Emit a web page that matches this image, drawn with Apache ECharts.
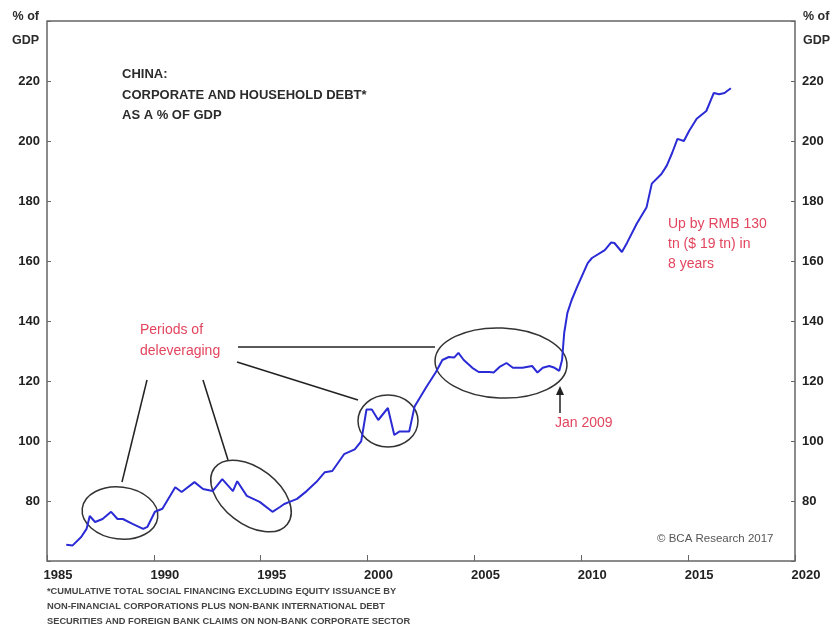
<!DOCTYPE html>
<html>
<head>
<meta charset="utf-8">
<script src="https://cdn.jsdelivr.net/npm/echarts@6/dist/echarts.min.js"></script>
<style>
  html, body { margin: 0; padding: 0; background: #fff; }
  #chart { width: 835px; height: 628px; }
</style>
</head>
<body>
<div id="chart"></div>
<script>
// decimal years and debt (% of GDP)
let years = [1985.9, 1986.2, 1986.6, 1986.85, 1987.0, 1987.25, 1987.6, 1988.0, 1988.3, 1988.55,
  1989.0, 1989.5, 1989.7, 1990.05, 1990.4, 1991.0, 1991.3, 1991.9, 1992.3, 1992.75,
  1993.2, 1993.7, 1993.9, 1994.35, 1994.95, 1995.55, 1995.9, 1996.1, 1996.35, 1996.7,
  1997.15, 1997.6, 1998.0, 1998.35, 1998.9, 1999.4, 1999.7, 1999.95, 2000.2, 2000.5,
  2000.95, 2001.25, 2001.5, 2001.95, 2002.2, 2002.75, 2003.2, 2003.5, 2003.8, 2004.05,
  2004.25, 2004.5, 2004.9, 2005.2, 2005.7, 2005.9, 2006.2, 2006.5, 2006.8, 2007.25,
  2007.7, 2007.95, 2008.2, 2008.5, 2008.75, 2008.97, 2009.1, 2009.2, 2009.35, 2009.55,
  2009.8, 2010.3, 2010.5, 2011.1, 2011.4, 2011.55, 2011.9, 2012.15, 2012.6, 2013.05,
  2013.3, 2013.75, 2014.0, 2014.25, 2014.5, 2014.8, 2015.05, 2015.4, 2015.85, 2016.1,
  2016.2, 2016.45, 2016.7, 2017.0];
let debt = [65.4, 65.2, 68, 70.7, 75, 73, 74, 76.4, 74, 74,
  72.4, 70.7, 71.4, 76.4, 77.4, 84.6, 83, 86.3, 84, 83.3,
  87.3, 83.3, 86.6, 81.7, 79.7, 76.4, 78, 79, 79.7, 80.7,
  83.3, 86.3, 89.6, 90, 95.6, 97.2, 99.9, 110.5, 110.5, 107,
  111, 102, 103.2, 103.2, 111.5, 118, 123, 127, 128, 127.8,
  129.4, 127, 124.4, 123, 123, 122.8, 124.8, 126, 124.4, 124.4,
  125, 122.8, 124.4, 125, 124.4, 123.4, 127, 136, 142.7, 147,
  151.3, 159.3, 161, 163.6, 166.2, 166, 163, 166.2, 172.5, 177.8,
  185.8, 189, 191.8, 196, 200.7, 200, 203.4, 207.4, 210, 214.3,
  216, 215.6, 216, 217.6];
let yTicks = [80, 100, 120, 140, 160, 180, 200, 220];

let chart = echarts.init(document.getElementById('chart'));

let red = '#e2455e';
let ink = '#2b2b2b';
let font = 'Liberation Sans, Arial, sans-serif';

let yLabel = (v) => (yTicks.indexOf(v) >= 0 ? String(v) : '');

let yAxisBase = {
  type: 'value',
  min: 60,
  max: 240,
  interval: 20,
  axisLine: { show: false },
  axisTick: { show: true, inside: true, length: 4, lineStyle: { color: '#666' } },
  splitLine: { show: false },
  axisLabel: { formatter: yLabel, color: '#222', fontSize: 13, fontWeight: 'bold', fontFamily: font, margin: 7 },
};

let ellipse = (cx, cy, rx, ry, rot) => ({
  type: 'ellipse',
  x: cx,
  y: cy,
  rotation: rot,
  shape: { cx: 0, cy: 0, rx: rx, ry: ry },
  style: { fill: 'none', stroke: '#333', lineWidth: 1.5 },
});
let seg = (x1, y1, x2, y2) => ({
  type: 'line',
  shape: { x1: x1, y1: y1, x2: x2, y2: y2 },
  style: { stroke: '#222', lineWidth: 1.5 },
});
let txt = (x, y, text, opts) => ({
  type: 'text',
  x: x,
  y: y,
  style: Object.assign({ text: text, fontFamily: font, fill: ink, fontSize: 13 }, opts || {}),
});
let foot = { fill: '#444', fontSize: 9.3, fontWeight: 'bold' };

chart.setOption({
  animation: false,
  grid: {
    left: 47, right: 40, top: 21, bottom: 67,
    show: true, borderColor: '#666', borderWidth: 1.5, backgroundColor: 'transparent',
  },
  xAxis: {
    type: 'value',
    min: 1985,
    max: 2020,
    interval: 5,
    axisLine: { show: false },
    axisTick: { show: true, inside: true, length: 6, lineStyle: { color: '#666' } },
    splitLine: { show: false },
    axisLabel: {
      formatter: (v) => String(v),
      color: '#222', fontSize: 13, fontWeight: 'bold', fontFamily: font, margin: 8,
      padding: [0, 0, 0, 22],
    },
  },
  yAxis: [
    Object.assign({}, yAxisBase, { position: 'left' }),
    Object.assign({}, yAxisBase, { position: 'right' }),
  ],
  series: [
    {
      type: 'line',
      data: years.map((y, i) => [y, debt[i]]),
      showSymbol: false,
      lineStyle: { color: '#2b2bd6', width: 2 },
    },
  ],
  graphic: [
    txt(39, 10, '% of', { align: 'right', fontWeight: 'bold', fontSize: 12.5 }),
    txt(39, 34, 'GDP', { align: 'right', fontWeight: 'bold', fontSize: 12.5 }),
    txt(803, 10, '% of', { fontWeight: 'bold', fontSize: 12.5 }),
    txt(803, 34, 'GDP', { fontWeight: 'bold', fontSize: 12.5 }),

    txt(122, 68, 'CHINA:', { fontWeight: 'bold' }),
    txt(122, 89, 'CORPORATE AND HOUSEHOLD DEBT*', { fontWeight: 'bold' }),
    txt(122, 109, 'AS A % OF GDP', { fontWeight: 'bold' }),

    txt(140, 323, 'Periods of', { fill: red, fontSize: 14 }),
    txt(140, 344, 'deleveraging', { fill: red, fontSize: 14 }),
    txt(555, 416, 'Jan 2009', { fill: red, fontSize: 14 }),
    txt(668, 217, 'Up by RMB 130', { fill: red, fontSize: 14 }),
    txt(668, 237, 'tn ($ 19 tn) in', { fill: red, fontSize: 14 }),
    txt(668, 257, '8 years', { fill: red, fontSize: 14 }),
    txt(657, 533, '\u00a9 BCA Research 2017', { fill: '#555', fontSize: 11.5 }),

    txt(47, 587, '*CUMULATIVE TOTAL SOCIAL FINANCING EXCLUDING EQUITY ISSUANCE BY', foot),
    txt(47, 602, 'NON-FINANCIAL CORPORATIONS PLUS NON-BANK INTERNATIONAL DEBT', foot),
    txt(47, 617, 'SECURITIES AND FOREIGN BANK CLAIMS ON NON-BANK CORPORATE SECTOR', foot),

    ellipse(120, 513, 38, 26, -0.12),
    ellipse(251, 496, 46, 28, -0.66),
    ellipse(388, 421, 30, 26, 0),
    ellipse(501, 363, 66, 35, -0.04),

    seg(147, 380, 122, 482),
    seg(203, 380, 228, 460),
    seg(237, 362, 358, 400),
    seg(238, 347, 435, 347),

    seg(560, 413, 560, 393),
    {
      type: 'polygon',
      shape: { points: [[560, 386], [556, 395], [564, 395]] },
      style: { fill: '#222' },
    },
  ],
});
</script>
</body>
</html>
